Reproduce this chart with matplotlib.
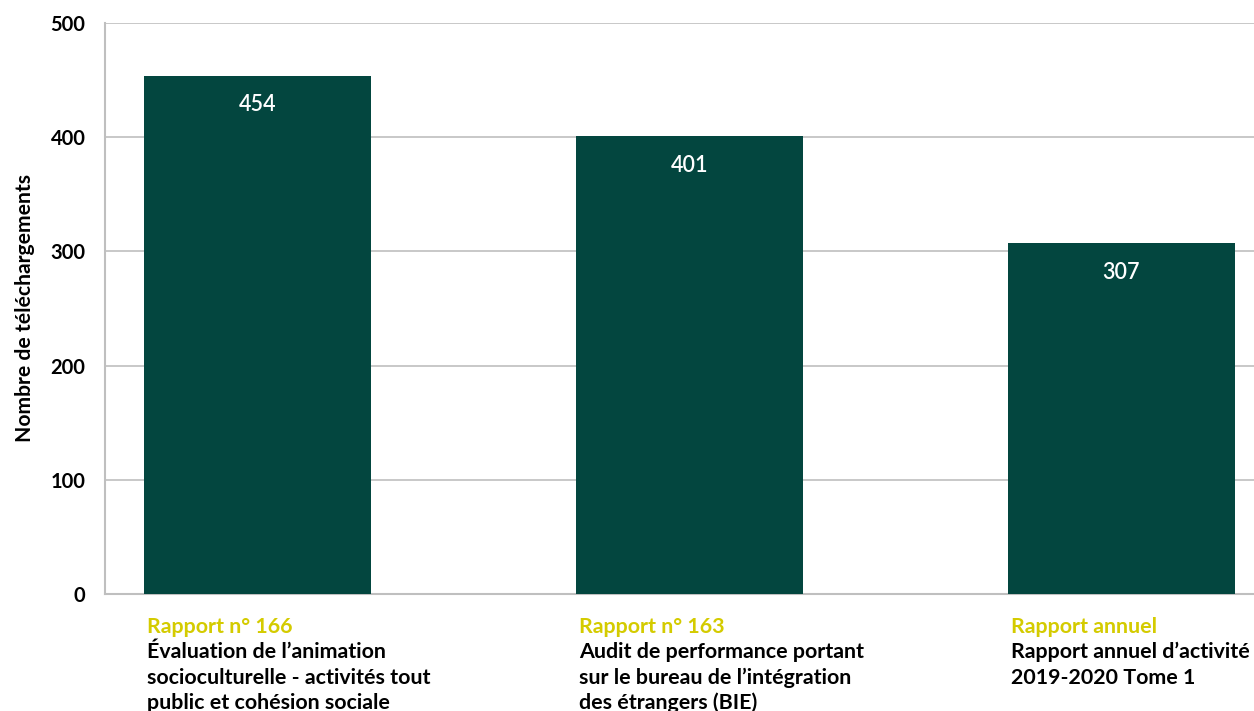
import matplotlib
matplotlib.use("Agg")
import matplotlib.pyplot as plt
from matplotlib import transforms

plt.rcParams['font.family'] = ['Lato', 'DejaVu Sans']

# Data
report_ids = ["Rapport n° 166", "Rapport n° 163", "Rapport annuel"]
report_titles = [
    ["Évaluation de l’animation", "socioculturelle - activités tout", "public et cohésion sociale"],
    ["Audit de performance portant", "sur le bureau de l’intégration", "des étrangers (BIE)"],
    ["Rapport annuel d’activité", "2019-2020 Tome 1"],
]
downloads = [454, 401, 307]
y_ticks = [0, 100, 200, 300, 400, 500]

BAR_COLOR = "#03463F"
ID_COLOR = "#D4CB00"
GRID_COLOR = "#BFBFBF"

W, H, DPI = 1254, 711, 100
fig = plt.figure(figsize=(W / DPI, H / DPI), dpi=DPI)
ax = fig.add_axes([105 / W, 1 - 594 / H, (W - 105) / W, (594 - 23) / H])

x = list(range(len(downloads)))
bar_w = 0.525
ax.bar(x, downloads, width=bar_w, color=BAR_COLOR, zorder=3)

ax.set_xlim(-0.353, 2.307)
ax.set_ylim(0, 500)
ax.set_yticks(y_ticks)
ax.set_yticklabels([str(t) for t in y_ticks], fontsize=14.5, fontweight='bold', color='black')
ax.tick_params(axis='y', length=0, pad=14)
ax.set_xticks([])
ax.yaxis.grid(True, color=GRID_COLOR, linewidth=1.2, zorder=0)
for side in ('top', 'right'):
    ax.spines[side].set_visible(False)
for side in ('left', 'bottom'):
    ax.spines[side].set_color(GRID_COLOR)
    ax.spines[side].set_linewidth(1.5)

ax.set_ylabel("Nombre de téléchargements", fontsize=15.2, fontweight='bold')
ax.yaxis.set_label_coords(-0.061, 0.5)

# Value labels inside the bars
for xi, v in zip(x, downloads):
    ax.annotate(str(v), xy=(xi, v), xytext=(0, -21), textcoords='offset points',
                ha='center', va='center', color='white', fontsize=15.5,
                fontweight='semibold', zorder=4)

# Category labels under the bars, one line at a time
base = transforms.blended_transform_factory(ax.transData, ax.transAxes)
line_step = 25.3  # pixels
for xi, rid, lines in zip(x, report_ids, report_titles):
    left = xi - bar_w / 2
    all_lines = [(rid, ID_COLOR)] + [(t, 'black') for t in lines]
    for k, (txt, col) in enumerate(all_lines):
        off = transforms.ScaledTranslation(3 / DPI, -(39 + k * line_step) / DPI, fig.dpi_scale_trans)
        ax.text(left, 0, txt, transform=base + off, ha='left', va='baseline',
                fontsize=15.4, fontweight='bold', color=col, clip_on=False)

fig.savefig("out.png", dpi=DPI)
